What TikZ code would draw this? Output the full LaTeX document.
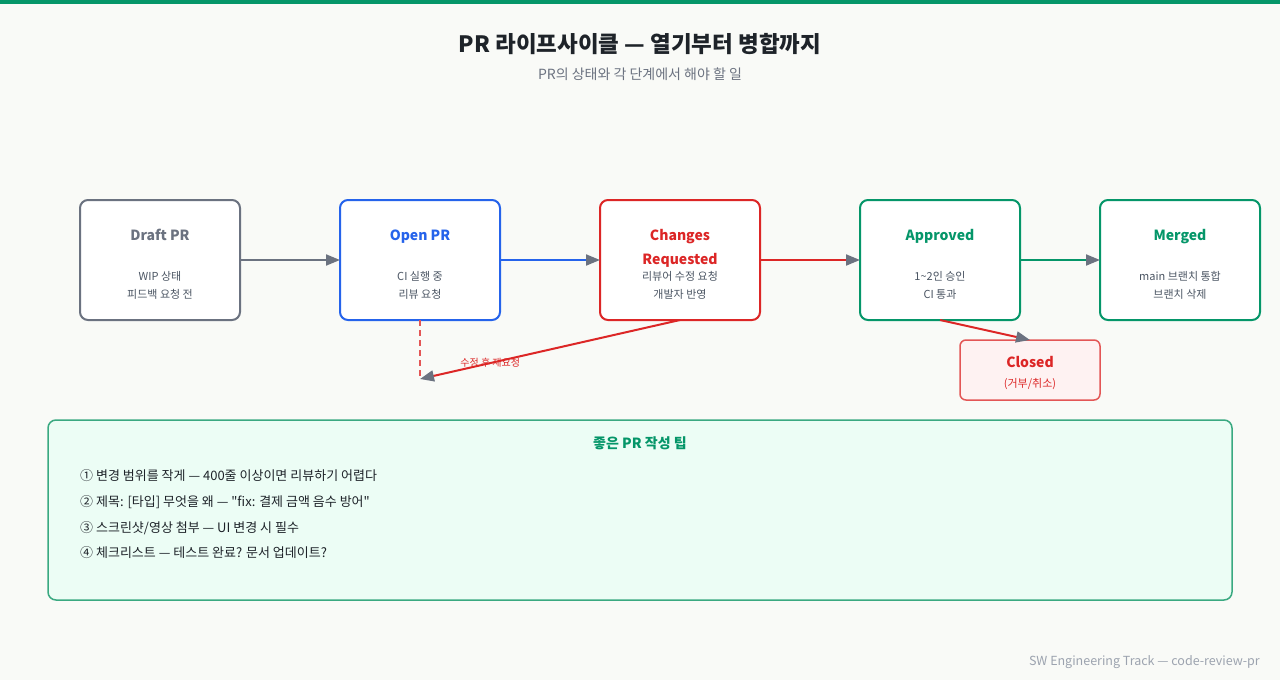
\documentclass[tikz,border=0pt]{standalone}
\usepackage{fontspec}
\setmainfont{Noto Sans CJK KR}
\newfontfamily\rawfont{Noto Sans CJK KR}[Ligatures=TeXOff]
\usetikzlibrary{arrows.meta,positioning}

\definecolor{pagebg}{HTML}{F9FAF7}
\definecolor{brandgreen}{HTML}{059669}
\definecolor{inkdark}{HTML}{1E2329}
\definecolor{inkgray}{HTML}{6B7280}
\definecolor{subgray}{HTML}{4B5563}
\definecolor{draftgray}{HTML}{6B7280}
\definecolor{openblue}{HTML}{2563EB}
\definecolor{chgred}{HTML}{DC2626}
\definecolor{closedred}{HTML}{E35656}
\definecolor{closedfill}{HTML}{FEF2F2}
\definecolor{tipfill}{HTML}{ECFDF5}
\definecolor{tipborder}{HTML}{3AA981}
\definecolor{footgray}{HTML}{9CA3AF}

\begin{document}
\begin{tikzpicture}[
  x=1pt, y=-1pt,
  state/.style={
    draw,
    line width=2pt,
    rounded corners=8pt,
    fill=white,
    minimum width=160pt,
    minimum height=120pt,
    inner sep=0pt,
    outer sep=0pt,
  },
  stitle/.style={font=\fontsize{14}{24}\selectfont\bfseries, align=center, inner sep=0pt},
  ssub/.style={font=\fontsize{11}{18}\selectfont, text=subgray, align=center, inner sep=0pt},
  flow/.style={line width=2pt, -{Triangle[length=14pt,width=11pt,color=draftgray]}},
]

\useasboundingbox (0,0) rectangle (1280,680);
\fill[pagebg] (0,0) rectangle (1280,680);
\fill[brandgreen] (0,0) rectangle (1280,4);

% header
\node[font=\fontsize{22.5}{26}\selectfont\bfseries, text=inkdark] (title) at (640,44) {PR 라이프사이클 — 열기부터 병합까지};
\node[font=\fontsize{14}{17}\selectfont, text=inkgray] (subtitle) at (640,74) {PR의 상태와 각 단계에서 해야 할 일};

% states
\node[state, draw=draftgray] (draft) at (160,260) {};
\node[state, draw=openblue, right=100pt of draft] (open) {};
\node[state, draw=chgred, right=100pt of open] (changes) {};
\node[state, draw=brandgreen, right=100pt of changes] (approved) {};
\node[state, draw=brandgreen, right=80pt of approved] (merged) {};

\node[stitle, text=draftgray, anchor=base] (draft-t) at ([yshift=-40pt]draft.north) {Draft PR};
\node[ssub] (draft-s) at ([yshift=-85.5pt]draft.north) {WIP 상태\\피드백 요청 전};
\node[stitle, text=openblue, anchor=base] (open-t) at ([yshift=-40pt]open.north) {Open PR};
\node[ssub] (open-s) at ([yshift=-85.5pt]open.north) {CI 실행 중\\리뷰 요청};
\node[stitle, text=chgred] (changes-t) at ([yshift=-48.5pt]changes.north) {Changes\\Requested};
\node[ssub] (changes-s) at ([yshift=-85.5pt]changes.north) {리뷰어 수정 요청\\개발자 반영};
\node[stitle, text=brandgreen, anchor=base] (approved-t) at ([yshift=-40pt]approved.north) {Approved};
\node[ssub] (approved-s) at ([yshift=-85.5pt]approved.north) {1\textasciitilde 2인 승인\\CI 통과};
\node[stitle, text=brandgreen, anchor=base] (merged-t) at ([yshift=-40pt]merged.north) {Merged};
\node[ssub] (merged-s) at ([yshift=-85.5pt]merged.north) {main 브랜치 통합\\브랜치 삭제};

\node[state, draw=closedred, fill=closedfill, minimum width=140pt, minimum height=60pt, line width=1.5pt, rounded corners=6pt] (closed) at (1030,370) {};
\node[stitle, text=chgred, anchor=base] (closed-t) at ([yshift=-27pt]closed.north) {Closed};
\node[font=\fontsize{11}{13}\selectfont, text=chgred, inner sep=0pt] (closed-s) at ([yshift=-44pt]closed.north) {(거부/취소)};

% main flow
\draw[flow, draftgray] (draft.east) -- (open.west);
\draw[flow, openblue] (open.east) -- (changes.west);
\draw[flow, chgred] (changes.east) -- (approved.west);
\draw[flow, brandgreen] (approved.east) -- (merged.west);
\draw[flow, chgred] (approved.south) -- (closed.north);

% re-request loop
\coordinate (rereq) at (420,379);
\draw[closedred, line width=2pt, dash pattern=on 6pt off 4pt] (open.south) -- (rereq);
\draw[flow, chgred] (changes.south) -- node[pos=0.73, font=\fontsize{10}{12}\selectfont, text=chgred, inner sep=0pt] (rereq-l) {수정 후 재요청} (rereq);

% tips
\node[draw=tipborder, fill=tipfill, line width=1.5pt, rounded corners=8pt, minimum width=1184pt, minimum height=180pt] (tips) at (640,510) {};
\node[font=\fontsize{14}{17}\selectfont\bfseries, text=brandgreen, inner sep=0pt] (tips-t) at ([yshift=-24pt]tips.north) {좋은 PR 작성 팁};
\node[font=\fontsize{13}{25.7}\selectfont, text=inkdark, align=left, anchor=west, inner sep=0pt] (tips-l) at (80,514.5) {%
① 변경 범위를 작게 — 400줄 이상이면 리뷰하기 어렵다\\
② 제목: [타입] 무엇을 왜 — {\rawfont"}fix: 결제 금액 음수 방어{\rawfont"}\\
③ 스크린샷/영상 첨부 — UI 변경 시 필수\\
④ 체크리스트 — 테스트 완료? 문서 업데이트?};

\node[font=\fontsize{12.5}{15}\selectfont, text=footgray, anchor=east, inner sep=0pt] (footer) at (1260,662) {SW Engineering Track — code-review-pr};

\end{tikzpicture}
\end{document}
